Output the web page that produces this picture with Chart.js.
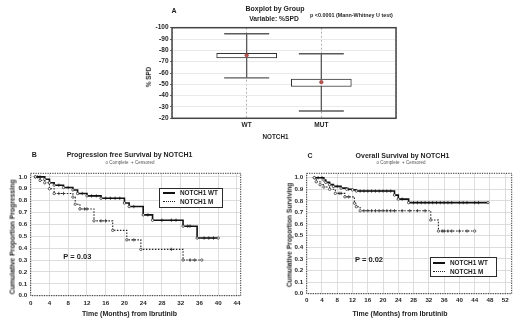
<!DOCTYPE html>
<html>
<head>
<meta charset="utf-8">
<title>NOTCH1: %SPD and survival</title>
<script src="https://cdn.jsdelivr.net/npm/chart.js@4.4.1/dist/chart.umd.min.js"></script>
<style>
  html, body { margin: 0; padding: 0; background: #fff; }
  #page { position: relative; width: 520px; height: 324px; overflow: hidden;
          font-family: "Liberation Sans", Arial, sans-serif; color: #1e1e1e; }
  #page canvas { position: absolute; left: 0; top: 0; }
  .t { position: absolute; white-space: nowrap; font-weight: bold; line-height: 1;
       transform: translate(-50%, -50%); }
  .t.l { transform: translate(0, -50%); }
  .t.v { transform: translate(-50%, -50%) rotate(-90deg); }
  .t.s { font-weight: normal; color: #555; }
  .leg { position: absolute; border: 1px solid #2a2a2a; background: #fff; box-sizing: border-box; }
  .smp { position: absolute; width: 12px; height: 0; }
</style>
</head>
<body>
<div id="page">
  <canvas id="boxChart" width="520" height="324"></canvas>
  <canvas id="pfsChart" width="520" height="324"></canvas>
  <canvas id="osChart" width="520" height="324"></canvas>

  <!-- panel A -->
  <div class="t" style="left:174px;top:10px;font-size:7px">A</div>
  <div class="t" style="left:275px;top:8.3px;font-size:7px">Boxplot by Group</div>
  <div class="t" style="left:274px;top:19px;font-size:6.7px">Variable: %SPD</div>
  <div class="t l" style="left:310px;top:16px;font-size:5.4px">p &lt;0.0001 (Mann-Whitney U test)</div>
  <div class="t v" style="left:148.5px;top:77px;font-size:6.3px">% SPD</div>
  <div class="t" style="left:275.5px;top:136.7px;font-size:6.3px">NOTCH1</div>

  <!-- panel B -->
  <div class="t" style="left:34.3px;top:154.3px;font-size:7px">B</div>
  <div class="t" style="left:129.5px;top:154.3px;font-size:7px">Progression free Survival by NOTCH1</div>
  <div class="t s" style="left:130px;top:163.3px;font-size:4.5px">o Complete &nbsp;+ Censored</div>
  <div class="t v" style="left:13px;top:236.5px;font-size:6.8px">Cumulative Proportion Progressing</div>
  <div class="t" style="left:129.5px;top:313.3px;font-size:7px">Time (Months) from Ibrutinib</div>
  <div class="t l" style="left:63.3px;top:257.3px;font-size:7.5px">P = 0.03</div>
  <div class="leg" style="left:159px;top:188px;width:64px;height:20px"></div>
  <div class="smp" style="left:163px;top:192.3px;border-top:2px solid #111"></div>
  <div class="t l" style="left:180px;top:193.3px;font-size:6.4px">NOTCH1 WT</div>
  <div class="smp" style="left:163px;top:201px;border-top:1.5px dotted #222"></div>
  <div class="t l" style="left:180px;top:201.7px;font-size:6.4px">NOTCH1 M</div>

  <!-- panel C -->
  <div class="t" style="left:310px;top:155px;font-size:7px">C</div>
  <div class="t" style="left:402.5px;top:155px;font-size:7px">Overall Survival by NOTCH1</div>
  <div class="t s" style="left:401px;top:163.3px;font-size:4.5px">o Complete &nbsp;+ Censored</div>
  <div class="t v" style="left:290px;top:235px;font-size:6.7px">Cumulative Proportion Surviving</div>
  <div class="t" style="left:400px;top:313.3px;font-size:7px">Time (Months) from Ibrutinib</div>
  <div class="t l" style="left:355px;top:260px;font-size:7.5px">P = 0.02</div>
  <div class="leg" style="left:430px;top:257.3px;width:67px;height:20px"></div>
  <div class="smp" style="left:433px;top:262.3px;border-top:2px solid #111"></div>
  <div class="t l" style="left:450px;top:263.3px;font-size:6.4px">NOTCH1 WT</div>
  <div class="smp" style="left:433px;top:271px;border-top:1.5px dotted #222"></div>
  <div class="t l" style="left:450px;top:271.7px;font-size:6.4px">NOTCH1 M</div>
</div>

<script>
// ---- A: %SPD boxplot by NOTCH1 status ----
const boxGroups = ['WT', 'MUT'];
const boxQ1 = [-77.3, -54.6];
const boxQ3 = [-73.4, -48.1];
const whiskerMin = [-94.7, -77.0];
const whiskerMax = [-55.7, -26.5];
const boxMean = [-75.6, -51.9];

// ---- B: progression free survival (step points + censored times) ----
const pfsWtTime = [1, 3, 4, 5, 7, 9, 10, 12, 15, 20, 21, 24, 26, 32.5, 35.5, 40];
const pfsWtSurv = [1.0, 0.98, 0.95, 0.93, 0.91, 0.89, 0.86, 0.84, 0.82, 0.78, 0.75, 0.68, 0.635, 0.585, 0.485, 0.485];
const pfsWtCens = [2, 6, 8, 11, 13, 14, 16, 17, 18, 19, 22, 25, 28, 30, 31, 33.5, 34, 37, 38, 39];
const pfsMTime = [1, 2, 3, 4, 5, 9, 9.5, 10.5, 13.5, 17.5, 20.5, 23.5, 32.5, 36.5];
const pfsMSurv = [1.0, 0.97, 0.95, 0.90, 0.86, 0.83, 0.77, 0.73, 0.63, 0.55, 0.47, 0.39, 0.30, 0.30];
const pfsMCens = [1.5, 6, 7, 11.5, 12, 15, 16, 22, 30, 34, 35];

// ---- C: overall survival ----
const osWtTime = [2, 4.5, 5, 6, 7, 9, 10.5, 12, 13, 23, 24, 26.7, 47.5];
const osWtSurv = [1.0, 0.98, 0.96, 0.94, 0.925, 0.91, 0.90, 0.895, 0.885, 0.85, 0.815, 0.785, 0.785];
const osWtCens = [3, 4, 8, 11, 14, 15, 16, 17, 18, 19, 20, 21, 22, 25, 28, 29, 30, 31, 32, 33, 34, 35, 36, 37, 38, 40, 41, 42, 44, 45];
const osMTime = [2, 2.5, 3.5, 4.5, 6, 7.5, 10, 12.5, 13, 14, 32.5, 34.5, 44];
const osMSurv = [1.0, 0.965, 0.94, 0.92, 0.90, 0.865, 0.835, 0.78, 0.75, 0.715, 0.635, 0.54, 0.54];
const osMCens = [8.5, 9, 11, 15, 16, 17, 18, 19, 20, 21, 22, 23, 25, 27, 29, 31, 35.5, 36, 37, 38, 40, 42];

const ink = '#1e1e1e';
const tickFont = { family: 'Liberation Sans', size: 6.2, weight: 'bold' };

// frame round the plot area (Statistica style)
Chart.register({
    id: 'frame',
    defaults: { color: '#333', width: 1, dash: [] },
    afterDatasetsDraw(chart, args, opts) {
        const { ctx, chartArea: a } = chart;
        ctx.save();
        ctx.strokeStyle = opts.color;
        ctx.lineWidth = opts.width;
        ctx.setLineDash(opts.dash);
        ctx.strokeRect(a.left, a.top, a.right - a.left, a.bottom - a.top);
        ctx.restore();
    }
});

// value of the step curve at time t, so censor marks sit on their line
function survAt(times, surv, t) {
    let s = surv[0];
    times.forEach((ti, i) => { if (ti <= t) s = surv[i]; });
    return s;
}
const toPoints = (times, surv) => times.map((t, i) => ({ x: t, y: surv[i] }));
const censPoints = (times, surv, cens) => cens.map(t => ({ x: t, y: survAt(times, surv, t) }));

// Boxplot
const boxArea = { left: 172, right: 396, top: 27.7, bottom: 118.3 };
new Chart(document.getElementById('boxChart'), {
    type: 'bar',
    data: {
        labels: ['', ...boxGroups, ''],
        datasets: [
            {
                type: 'line', data: [null, ...boxMean, null], showLine: false,
                pointRadius: 1.8, pointBackgroundColor: '#c0504d', pointBorderColor: '#8a3a3a',
                pointBorderWidth: 0.5, order: 0
            },
            {
                type: 'bar', data: [null, ...boxGroups.map((g, i) => [boxQ1[i], boxQ3[i]]), null],
                backgroundColor: '#fff', borderColor: '#333', borderWidth: 1,
                borderSkipped: false, barThickness: 60, order: 1
            },
            ...boxGroups.map((g, i) => ({
                type: 'line',
                data: [{ x: g, y: whiskerMin[i] }, { x: g, y: whiskerMax[i] }],
                borderColor: '#5a5a5a', borderWidth: 1.3,
                pointStyle: 'line', pointRadius: 22.5,
                pointBorderColor: '#5a5a5a', pointBorderWidth: 1.4, order: 2
            }))
        ]
    },
    options: {
        responsive: false, animation: false, events: [],
        layout: { padding: { left: boxArea.left - 30, right: 520 - boxArea.right, top: boxArea.top, bottom: 0 } },
        plugins: { legend: { display: false }, tooltip: { enabled: false }, frame: { color: '#444', width: 1.5 } },
        scales: {
            x: {
                offset: false,
                afterFit: s => { s.height = 324 - boxArea.bottom; },
                grid: { offset: false, color: '#9a9a9a', lineWidth: 0.8, drawTicks: false },
                border: { display: false, dash: [2, 2] },
                ticks: { padding: 3.5, font: { ...tickFont, size: 6.5 }, color: ink, maxRotation: 0 }
            },
            y: {
                reverse: true, min: -100, max: -20,
                afterFit: s => { s.width = 30; },
                grid: { color: '#e4e4e4', lineWidth: 0.8, tickLength: 2, tickColor: '#444' },
                border: { display: false },
                ticks: { stepSize: 10, padding: 1.5, font: { ...tickFont, size: 6.5 }, color: ink }
            }
        }
    }
});

// Kaplan-Meier panels
function makeKm(canvasId, area, xMax, yMax, wt, mut) {
    const yw = 30;
    const markStyle = { showLine: false, pointStyle: 'cross', pointRadius: 1.7, pointBorderColor: '#333', pointBorderWidth: 0.8 };
    return new Chart(document.getElementById(canvasId), {
        type: 'line',
        data: {
            datasets: [
                {
                    label: 'NOTCH1 WT', data: toPoints(wt.time, wt.surv), stepped: true,
                    borderColor: '#111', borderWidth: 1.6,
                    pointRadius: 1.2, pointBackgroundColor: '#fff', pointBorderColor: '#222', pointBorderWidth: 0.7
                },
                {
                    label: 'NOTCH1 M', data: toPoints(mut.time, mut.surv), stepped: true,
                    borderColor: '#222', borderWidth: 1.1, borderDash: [1.5, 1.5],
                    pointRadius: 1.2, pointBackgroundColor: '#fff', pointBorderColor: '#222', pointBorderWidth: 0.7
                },
                { label: 'WT censored', data: censPoints(wt.time, wt.surv, wt.cens), ...markStyle },
                { label: 'M censored', data: censPoints(mut.time, mut.surv, mut.cens), ...markStyle }
            ]
        },
        options: {
            responsive: false, animation: false, events: [],
            layout: { padding: { left: area.left - yw, right: 520 - area.right, top: area.top, bottom: 0 } },
            plugins: { legend: { display: false }, tooltip: { enabled: false }, frame: { color: '#2a2a2a', width: 1, dash: [1.2, 1.2] } },
            scales: {
                x: {
                    type: 'linear', min: 0, max: xMax,
                    afterFit: s => { s.height = 324 - area.bottom; },
                    grid: { color: '#d4d4d4', lineWidth: 0.8, drawTicks: false },
                    border: { display: false },
                    ticks: { stepSize: 4, includeBounds: false, padding: area.xPad, font: tickFont, color: ink, maxRotation: 0, autoSkip: false }
                },
                y: {
                    min: 0, max: yMax,
                    afterFit: s => { s.width = yw; },
                    grid: { color: '#d4d4d4', lineWidth: 0.8, drawTicks: false },
                    border: { display: false },
                    ticks: { stepSize: 0.1, includeBounds: false, padding: 3.5, font: tickFont, color: ink, callback: v => v.toFixed(1) }
                }
            }
        }
    });
}

makeKm('pfsChart', { left: 30.7, right: 240.7, top: 173.3, bottom: 295.7, xPad: 3.5 }, 44.8, 1.03,
    { time: pfsWtTime, surv: pfsWtSurv, cens: pfsWtCens },
    { time: pfsMTime, surv: pfsMSurv, cens: pfsMCens });

makeKm('osChart', { left: 306.7, right: 511.7, top: 173.3, bottom: 293.7, xPad: 3 }, 53.7, 1.038,
    { time: osWtTime, surv: osWtSurv, cens: osWtCens },
    { time: osMTime, surv: osMSurv, cens: osMCens });
</script>
</body>
</html>
